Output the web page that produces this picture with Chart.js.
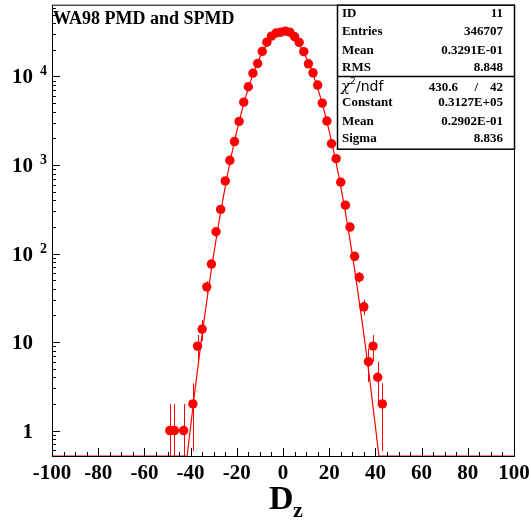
<!DOCTYPE html>
<html>
<head>
<meta charset="utf-8">
<script src="https://cdn.jsdelivr.net/npm/chart.js@4"></script>
<style>
html,body{margin:0;padding:0;background:#fff;}
</style>
</head>
<body>
<canvas id="myChart" width="531" height="520"></canvas>
<script>
//Bin centres (bins are 2 wide) and the counts, empty bins are left out
let binX = [-49,-47,-43,-39,-37,-35,-33,-31,-29,-27,-25,-23,-21,-19,-17,-15,-13,-11,-9,-7,-5,-3,-1,
            1,3,5,7,9,11,13,15,17,19,21,23,25,27,29,31,33,35,37,39,41,43];
let counts = [1,1,1,2,9,14,42,76,176,315,661,1130,1840,3110,5130,7650,10900,14000,19200,24400,28600,31000,31600,
              32500,31600,28200,24300,19100,13900,11000,8000,5000,3140,1740,1180,640,352,199,93,54,25,6,9,4,2];
//The gaussian fit curve as it is drawn (it runs along the bottom where it falls under the axis)
let fitX = [-100,-41.5,-40,-38,-36,-34,-32,-30,-28,-26,-24,-22,-20,-18,-16,-14,-12,-10,-8,-6,-4,-2,0,
            2,4,6,8,10,12,14,16,18,20,22,24,26,28,30,32,34,36,38,40,41.5,100];
let fitY = [0.516,0.516,1.11,3.0,7.8,19,44,98,206,412,782,1409,2413,3930,6070,8910,12440,16480,20750,24830,28220,30480,31270,
            30480,28220,24830,20750,16480,12440,8910,6070,3930,2413,1409,782,412,206,98,44,19,7.8,3.0,1.11,0.516,0.516];
//Axis ticks and labels
let xTicks = [-100,-80,-60,-40,-20,0,20,40,60,80,100];
let yTicks = [1,10,100,1000,10000];
let yTickBase = ['1','10','10','10','10'];
let yTickExp = ['','','2','3','4'];
//Stats box text
let statsTop = [['ID','11'],['Entries','346707'],['Mean','0.3291E-01'],['RMS','8.848']];
let chi2 = ['430.6','42'];
let statsFit = [['Constant','0.3127E+05'],['Mean','0.2902E-01'],['Sigma','8.836']];
let title = 'WA98 PMD and SPMD';

const SERIF = '"Liberation Serif", "Times New Roman", serif';
const RED = 'rgb(255,0,0)';

let points = binX.map((x, i) => ({x: x, y: counts[i]}));
let fit = fitX.map((x, i) => ({x: x, y: fitY[i]}));

//Vertical error bars (sqrt N), drawn before the markers
const errorBars = {
  id: 'errorBars',
  beforeDatasetsDraw(chart) {
    const c = chart.ctx, xs = chart.scales.x, ys = chart.scales.y, a = chart.chartArea;
    c.save();
    c.beginPath();
    c.rect(a.left, a.top, a.right - a.left, a.bottom - a.top);
    c.clip();
    c.strokeStyle = RED;
    c.lineWidth = 1;
    points.forEach(p => {
      let e = Math.sqrt(p.y);
      let px = Math.round(xs.getPixelForValue(p.x)) + 0.5;
      let top = ys.getPixelForValue(p.y + e);
      let low = p.y - e > 0 ? ys.getPixelForValue(p.y - e) : a.bottom;
      c.beginPath();
      c.moveTo(px, top);
      c.lineTo(px, low);
      c.stroke();
    });
    c.restore();
  }
};

//Frame, inward ticks, labels, stats box and titles in the ROOT style
const rootFrame = {
  id: 'rootFrame',
  afterDraw(chart) {
    const c = chart.ctx, xs = chart.scales.x, ys = chart.scales.y, a = chart.chartArea;
    c.save();
    c.strokeStyle = '#000';
    c.lineWidth = 1;
    c.strokeRect(a.left + 0.5, a.top + 0.5, a.right - a.left, a.bottom - a.top);

    //x ticks: major every 20, minor every 5
    c.beginPath();
    for (let v = -100; v <= 100; v += 5) {
      let px = Math.round(xs.getPixelForValue(v)) + 0.5;
      let len = v % 20 === 0 ? 8 : 4;
      c.moveTo(px, a.bottom);
      c.lineTo(px, a.bottom - len);
    }
    //y ticks: decades and 2..9 in between
    for (let d = -1; d <= 4; d++) {
      for (let m = 1; m <= 9; m++) {
        let v = m * Math.pow(10, d);
        if (v < ys.min || v > ys.max) continue;
        let py = Math.round(ys.getPixelForValue(v)) + 0.5;
        let len = m === 1 ? 8 : 4;
        c.moveTo(a.left, py);
        c.lineTo(a.left + len, py);
      }
    }
    c.stroke();

    //x tick labels
    c.fillStyle = '#000';
    c.font = 'bold 21px ' + SERIF;
    c.textAlign = 'center';
    c.textBaseline = 'alphabetic';
    xTicks.forEach(v => c.fillText(String(v), xs.getPixelForValue(v), 479));

    //y tick labels with the exponent raised
    yTicks.forEach((v, i) => {
      let py = ys.getPixelForValue(v);
      c.font = 'bold 21px ' + SERIF;
      c.textAlign = 'right';
      c.fillText(yTickBase[i], 33, py + 7);
      if (yTickExp[i]) {
        c.font = 'bold 14px ' + SERIF;
        c.textAlign = 'left';
        c.fillText(yTickExp[i], 40, py - 1);
      }
    });

    //axis title D with subscript z
    c.textAlign = 'left';
    c.font = 'bold 34px ' + SERIF;
    c.fillText('D', 269, 509);
    c.font = 'bold 22px ' + SERIF;
    c.fillText('z', 293, 517);

    //histogram title
    c.font = 'bold 18px ' + SERIF;
    c.fillText(title, 53, 24);

    //stats box
    let bx = 337, bw = a.right - bx, by = a.top, bh = 144;
    c.fillStyle = '#fff';
    c.fillRect(bx, by, bw, bh);
    c.lineWidth = 1.5;
    c.strokeRect(bx + 0.5, by + 0.5, bw, bh);
    c.beginPath();
    c.moveTo(bx, 76.5);
    c.lineTo(bx + bw, 76.5);
    c.stroke();
    c.fillStyle = '#000';
    c.font = 'bold 13px ' + SERIF;
    let topBase = [17, 34.5, 53.5, 71];
    statsTop.forEach((r, i) => {
      c.textAlign = 'left';
      c.fillText(r[0], 342, topBase[i]);
      c.textAlign = 'right';
      c.fillText(r[1], 503, topBase[i]);
    });
    let fitBase = [106, 124.5, 142];
    statsFit.forEach((r, i) => {
      c.textAlign = 'left';
      c.fillText(r[0], 342, fitBase[i]);
      c.textAlign = 'right';
      c.fillText(r[1], 503, fitBase[i]);
    });
    //chi2 / ndf row
    c.textAlign = 'left';
    c.font = 'italic 15px "DejaVu Serif", serif';
    c.fillText('\u03c7', 341, 91);
    c.font = '9px "DejaVu Sans", sans-serif';
    c.fillText('2', 350, 84);
    c.font = '14px "DejaVu Sans", sans-serif';
    c.fillText('/ndf', 356, 91);
    c.font = 'bold 13px ' + SERIF;
    c.textAlign = 'right';
    c.fillText(chi2[0], 458, 91);
    c.fillText('/', 478, 91);
    c.fillText(chi2[1], 503, 91);
    c.restore();
  }
};

const ctx = document.getElementById('myChart').getContext('2d');
let myChart = new Chart(ctx, {
  type: 'scatter',
  data: {
    datasets: [
      {
        data: points,
        showLine: false,
        pointRadius: 4.7,
        pointHoverRadius: 4.7,
        pointBorderWidth: 0,
        backgroundColor: RED,
        borderColor: RED
      },
      {
        data: fit,
        showLine: true,
        pointRadius: 0,
        borderColor: RED,
        borderWidth: 1.2,
        tension: 0,
        fill: false
      }
    ]
  },
  options: {
    responsive: false,
    animation: false,
    events: [],
    layout: {padding: {top: 3, right: 17, left: 0, bottom: 0}},
    scales: {
      x: {
        type: 'linear',
        min: -100,
        max: 100,
        ticks: {display: false},
        grid: {display: false},
        border: {display: false},
        afterFit: s => { s.height = 64; }
      },
      y: {
        type: 'logarithmic',
        min: 0.516,
        max: 64700,
        ticks: {display: false},
        grid: {display: false},
        border: {display: false},
        afterFit: s => { s.width = 52; }
      }
    },
    plugins: {
      legend: {display: false},
      tooltip: {enabled: false}
    }
  },
  plugins: [errorBars, rootFrame]
});
</script>
</body>
</html>
